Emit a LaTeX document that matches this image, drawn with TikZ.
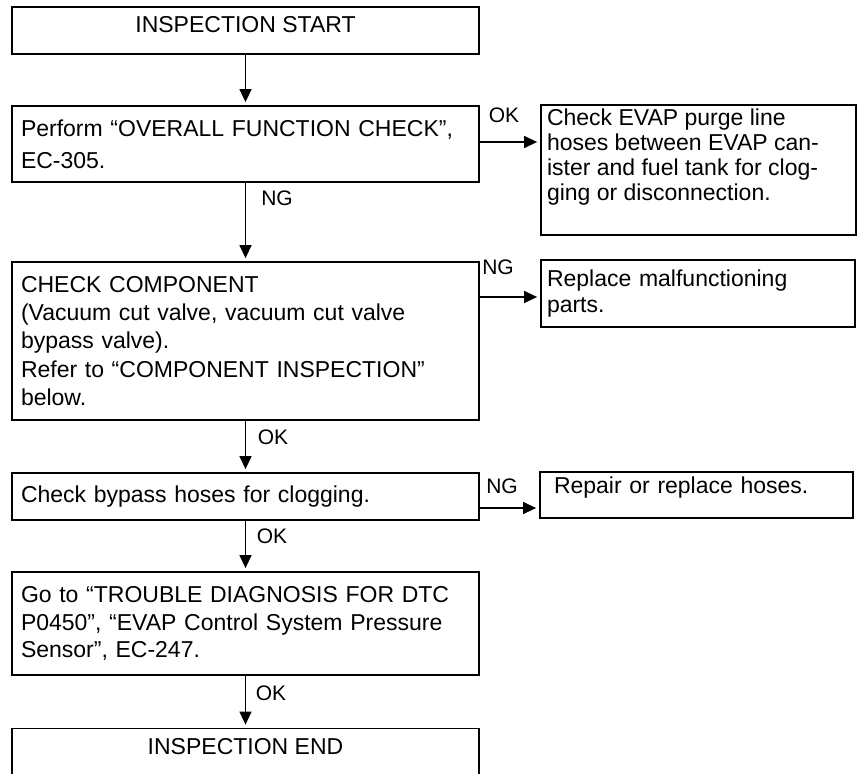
\documentclass[tikz,border=0pt]{standalone}
\usepackage{fontspec}
\setmainfont{Liberation Sans}
\usetikzlibrary{arrows.meta}
\begin{document}
\begin{tikzpicture}[x=1pt,y=-1pt,
  flowbox/.style={draw, line width=1.8pt, inner xsep=9pt, inner ysep=3pt, align=left,
    font=\fontsize{23}{28}\selectfont},
  titlebox/.style={draw, line width=1.8pt, minimum width=467pt, minimum height=47pt,
    text depth=12pt, font=\fontsize{23}{28}\selectfont},
  arr/.style={line width=1.4pt, -{Triangle[length=13pt,width=12pt]}, shorten >=3pt},
  lbl/.style={font=\fontsize{21}{24}\selectfont, inner sep=0pt}]
\useasboundingbox (0,0) rectangle (858,773);

% left column
\node[titlebox] (start) at (245.5,30.5) {INSPECTION START};
\node[flowbox, text width=449pt, minimum height=76pt,
  font=\fontsize{23}{32}\selectfont] (b2) at (245.5,144)
  {Perform “OVERALL FUNCTION CHECK”,\\EC-305.};
\node[flowbox, text width=449pt, minimum height=158pt,
  font=\fontsize{23}{28.3}\selectfont] (b3) at (245.5,341)
  {CHECK COMPONENT\\(Vacuum cut valve, vacuum cut valve\\bypass valve).\\Refer to “COMPONENT INSPECTION”\\below.};
\node[flowbox, text width=449pt, minimum height=47pt] (b4) at (245.5,496.5)
  {Check bypass hoses for clogging.};
\node[flowbox, text width=449pt, minimum height=103pt,
  font=\fontsize{23}{27.5}\selectfont] (b5) at (245.5,623.5)
  {Go to “TROUBLE DIAGNOSIS FOR DTC\\P0450”, “EVAP Control System Pressure\\Sensor”, EC-247.};
\node[titlebox] (end) at (245.5,752) {INSPECTION END};

% right column
\node[flowbox, inner xsep=6pt, inner ysep=4pt] (r1) at (698.5,170)
  {\parbox[c][122pt][t]{303pt}{\fontsize{23}{25}\selectfont Check EVAP purge line\\hoses between EVAP can-\\ister and fuel tank for clog-\\ging or disconnection.}};
\node[flowbox, inner xsep=6pt, text width=302pt, minimum height=67pt,
  font=\fontsize{23}{26.7}\selectfont] (r2) at (698,293.5)
  {Replace malfunctioning\\parts.};
\node[flowbox, inner xsep=14pt, text width=285pt, minimum height=46pt,
  text depth=20pt] (r3) at (696.5,495)
  {Repair or replace hoses.};

% vertical connectors
\draw[arr] (start.south) -- (b2.north);
\draw[arr] (b2.south) -- (b3.north);
\draw[arr] (b3.south) -- (b4.north);
\draw[arr] (b4.south) -- (b5.north);
\draw[arr] (b5.south) -- (end.north);

% horizontal connectors
\draw[arr] (b2.east |- 0,142) -- (r1.west |- 0,142);
\draw[arr] (b3.east |- 0,297) -- (r2.west |- 0,297);
\draw[arr] (b4.east |- 0,508) -- (r3.west |- 0,508);

% labels
\node[lbl] (l1) at (504,115) {OK};
\node[lbl] (l2) at (277,198) {NG};
\node[lbl] (l3) at (498,267) {NG};
\node[lbl] (l4) at (273,437) {OK};
\node[lbl] (l5) at (502,486) {NG};
\node[lbl] (l6) at (272,536) {OK};
\node[lbl] (l7) at (271,693) {OK};
\end{tikzpicture}
\end{document}
